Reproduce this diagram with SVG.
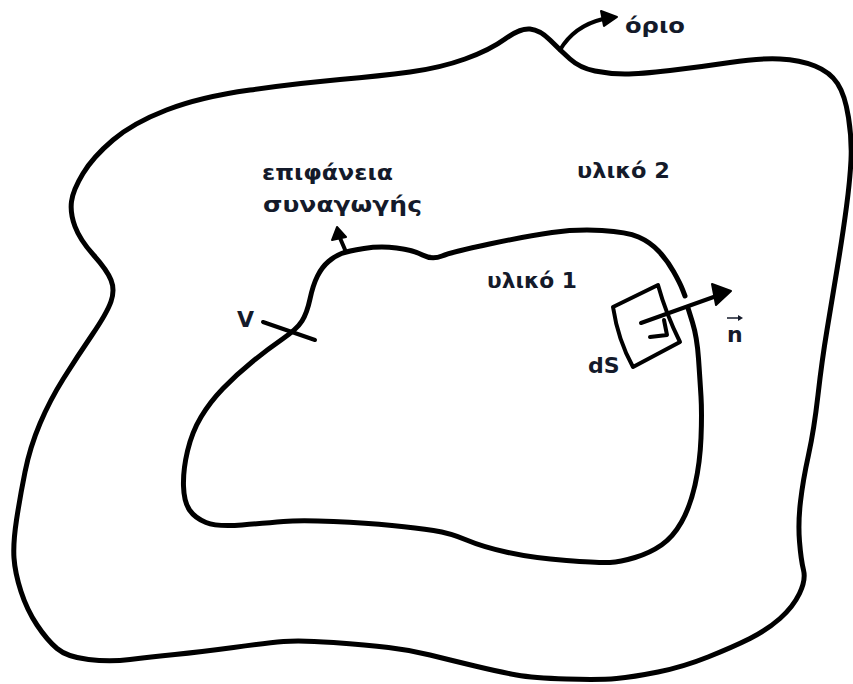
<svg xmlns="http://www.w3.org/2000/svg" width="853" height="684" viewBox="0 0 853 684">
<style>
.curve{fill:none;stroke:#000;stroke-width:5;stroke-linecap:round;stroke-linejoin:round}
.thin{fill:none;stroke:#000;stroke-width:4;stroke-linecap:round;stroke-linejoin:round}
.head{fill:#000;stroke:#000;stroke-width:2;stroke-linejoin:round}
.lbl{font-family:"DejaVu Sans","Liberation Sans",sans-serif;font-weight:bold;font-size:22px;fill:#141a2a}
</style>
<rect width="853" height="684" fill="#fff"/>
<g id="boundary">
<path class="curve" d="M250,90 Q300,83 340,79.5 Q380,76 410,72 Q440,68 465,59 Q490,50 505,39 Q520,28 530,29 Q540,30 550,40 Q560,50 570,59 Q580,68 595,71 Q610,74 625,74 Q640,74 670,70.5 Q700,67 730,62.5 Q760,58 780,59 Q800,60 815,66 Q830,72 837.5,83.5 Q845,95 848.5,117.5 Q852,140 851,160 Q850,180 846.5,206.5 Q843,233 837.5,266.5 Q832,300 827,330 Q822,360 818,395 Q814,430 808.5,455 Q803,480 800.5,501.5 Q798,523 799.5,541.5 Q801,560 803.5,570 Q806,580 799.5,593.5 Q793,607 780,618.5 Q767,630 750,638.5 Q733,647 708,657 Q683,667 658,672 Q633,677 616.5,678.5 Q600,680 566.5,679 Q533,678 516.5,675 Q500,672 475,666 Q450,660 430,655 Q410,650 388.5,647.5 Q367,645 333.5,642.5 Q300,640 283.5,641.5 Q267,643 233.5,647.5 Q200,652 175,654.5 Q150,657 130,659.5 Q110,662 88.5,659.5 Q67,657 57,648.5 Q47,640 37,625 Q27,610 21,591.5 Q15,573 14,558 Q13,543 16.5,520 Q20,497 25,472 Q30,447 40,423.5 Q50,400 63.5,378.5 Q77,357 92,335 Q107,313 111,301.5 Q115,290 111,280 Q107,270 93.5,255 Q80,240 75,226.5 Q70,213 71.5,201.5 Q73,190 83,173.5 Q93,157 113,140 Q133,123 166.5,110 Q200,97 250,90 Z"/>
</g>
<g id="interface">
<path class="curve" d="M688,308 L692.5,322.5 Q697,337 698.5,358.5 Q700,380 701,396.5 Q702,413 701,438 Q700,463 695,485 Q690,507 681.5,522 Q673,537 661.5,545 Q650,553 635,557.5 Q620,562 610,562.5 Q600,563 566.5,560.5 Q533,558 508,552.5 Q483,547 466.5,540 Q450,533 433.5,530.5 Q417,528 392,525.5 Q367,523 333.5,521.5 Q300,520 283.5,521.5 Q267,523 242,525 Q217,527 206,522.5 Q195,518 189.5,510 Q184,502 183.5,486 Q183,470 187.5,451 Q192,432 201,417 Q210,402 223,388.5 Q236,375 252,362 Q268,349 282.5,339 Q297,329 302,321 Q307,313 310,299 Q313,285 317.5,276 Q322,267 328.5,261.5 Q335,256 341.5,253.5 Q348,251 364,248.5 Q380,246 396.5,248 Q413,250 422.5,255 Q432,260 442,256 Q452,252 489.5,244 Q527,236 552,232.5 Q577,229 602,230.5 Q627,232 638.5,237 Q650,242 658.5,251 Q667,260 673.5,271.5 Q680,283 682.5,289.5 L685,296"/>
</g>
<g id="dS-element">
<path class="thin" d="M613,307 L658,285 Q666,314 680,342 L633,367 Q618,340 613,307 Z"/>
<path class="thin" d="M664,320 L667,335 L650,337"/>
</g>
<g id="connectors">
<path class="thin" d="M560,50 Q574,26 603,19"/>
<polygon class="head" points="601,11 617,17 604,26"/>
<path class="thin" d="M346,252 L340,238"/>
<polygon class="head" points="332,240 337,227 346,237"/>
<path class="thin" d="M263,322 L315,340"/>
<path class="thin" d="M641,323 L722,294"/>
<polygon class="head" points="712,284 731,291 716,305"/>
<path fill="none" stroke="#141a2a" stroke-width="1.5" d="M727,318 L741,318"/>
<polygon fill="#141a2a" points="738,315 743,318 738,321"/>
</g>
<g id="labels">
<text class="lbl" x="625" y="33" textLength="60" lengthAdjust="spacingAndGlyphs">όριο</text>
<text class="lbl" x="262" y="180" textLength="131" lengthAdjust="spacingAndGlyphs">επιφάνεια</text>
<text class="lbl" x="263" y="212" textLength="159" lengthAdjust="spacingAndGlyphs">συναγωγής</text>
<text class="lbl" x="577" y="178" textLength="93" lengthAdjust="spacingAndGlyphs">υλικό 2</text>
<text class="lbl" x="487" y="288" textLength="90" lengthAdjust="spacingAndGlyphs">υλικό 1</text>
<text class="lbl" x="237" y="327">V</text>
<text class="lbl" x="588" y="373">dS</text>
<text class="lbl" x="727" y="342">n</text>
</g>
</svg>
